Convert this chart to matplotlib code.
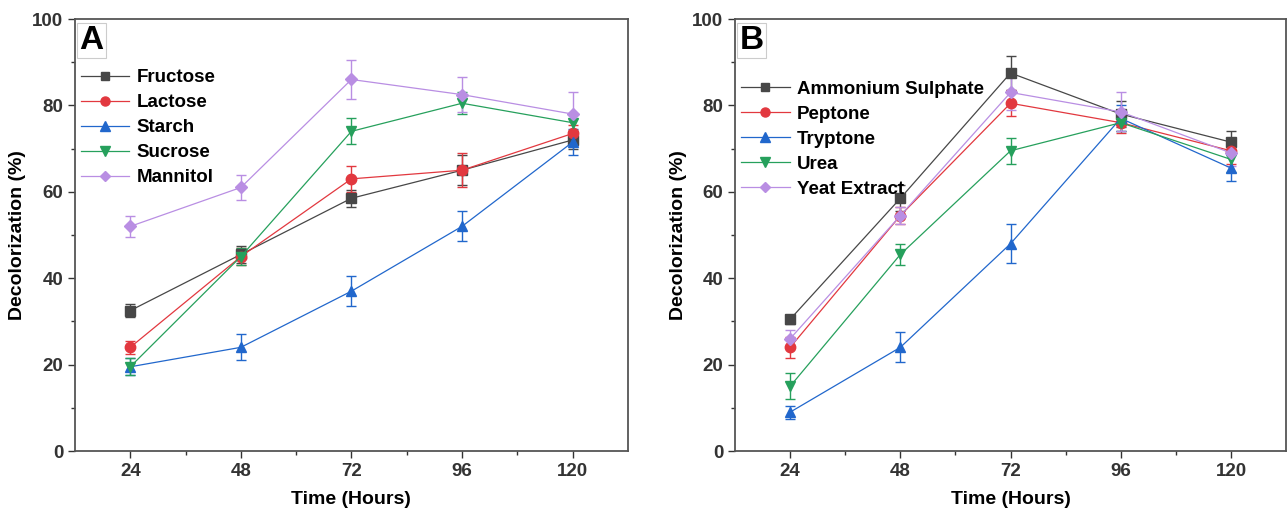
import matplotlib
matplotlib.use("Agg")
import matplotlib.pyplot as plt
from matplotlib.lines import Line2D
import numpy as np

plt.rcParams['font.family'] = ['Liberation Sans', 'DejaVu Sans']
plt.rcParams['font.weight'] = 'bold'

hours = [24, 48, 72, 96, 120]

# panel A - carbon sources
carbon_names = ['Fructose', 'Lactose', 'Starch', 'Sucrose', 'Mannitol']
fructose = [32.5, 45.5, 58.5, 65, 72]
fructose_err = [1.5, 2, 2, 3.5, 2]
lactose = [24, 45, 63, 65, 73.5]
lactose_err = [1.5, 2, 3, 4, 2]
starch = [19.5, 24, 37, 52, 71.5]
starch_err = [2, 3, 3.5, 3.5, 3]
sucrose = [19.5, 45, 74, 80.5, 76]
sucrose_err = [2, 2, 3, 2.5, 2]
mannitol = [52, 61, 86, 82.5, 78]
mannitol_err = [2.5, 3, 4.5, 4, 5]

# panel B - nitrogen sources
nitrogen_names = ['Ammonium Sulphate', 'Peptone', 'Tryptone', 'Urea', 'Yeat Extract']
ammonium = [30.5, 58.5, 87.5, 78, 71.5]
ammonium_err = [1, 3, 4, 3, 2.5]
peptone = [24, 54.5, 80.5, 76, 69.5]
peptone_err = [2.5, 2, 3, 2.5, 3]
tryptone = [9, 24, 48, 77, 65.5]
tryptone_err = [1.5, 3.5, 4.5, 3, 3]
urea = [15, 45.5, 69.5, 76, 67.5]
urea_err = [3, 2.5, 3, 2, 3]
yeast = [26, 54.5, 83, 78.5, 69]
yeast_err = [2, 2, 4, 4.5, 3]

colors = ['#474747', '#e2383f', '#2167cc', '#26a05c', '#b98ee3']
markers = ['s', 'o', '^', 'v', 'D']
msizes = [6.5, 7.5, 7.5, 7.5, 6.5]

fig = plt.figure(figsize=(12.88, 5.18), dpi=100)
axA = fig.add_axes([0.0582, 0.1293, 0.4293, 0.834])
axB = fig.add_axes([0.5707, 0.1293, 0.4278, 0.834])


def draw(ax, names, series, errs, letter, leg_top):
    handles = []
    for i in range(len(names)):
        ax.errorbar(hours, series[i], yerr=errs[i], color=colors[i], marker=markers[i],
                    markersize=msizes[i], linewidth=0.9, elinewidth=1, capsize=3.5,
                    capthick=1)
        handles.append(Line2D([], [], color=colors[i], marker=markers[i],
                              markersize=msizes[i] - 1, linewidth=0.9, label=names[i]))
    ax.set_xlim(12, 132)
    ax.set_ylim(0, 100)
    ax.set_xticks(hours)
    ax.set_xticks([36, 60, 84, 108], minor=True)
    ax.set_yticks([0, 20, 40, 60, 80, 100])
    ax.set_yticks([10, 30, 50, 70, 90], minor=True)
    ax.tick_params(axis='both', which='major', direction='out', length=5, width=1,
                   labelsize=13.5, colors='#333333')
    ax.tick_params(axis='both', which='minor', direction='out', length=3, width=1,
                   colors='#333333')
    for s in ax.spines.values():
        s.set_linewidth(1.3)
        s.set_color('#555555')
    ax.set_xlabel('Time (Hours)', fontsize=14, fontweight='bold', labelpad=8)
    ax.set_ylabel('Decolorization (%)', fontsize=14, fontweight='bold', labelpad=4)
    ax.text(0.008, 0.985, letter, transform=ax.transAxes, fontsize=24, fontweight='bold',
            va='top', ha='left',
            bbox=dict(facecolor='white', edgecolor='#cccccc', linewidth=0.8, pad=1.5))
    ax.legend(handles=handles, loc='upper left', bbox_to_anchor=(-0.01, leg_top),
              frameon=False, fontsize=13.5, handlelength=2.6, handletextpad=0.4,
              labelspacing=0.42, borderaxespad=0.2)


draw(axA, carbon_names, [fructose, lactose, starch, sucrose, mannitol],
     [fructose_err, lactose_err, starch_err, sucrose_err, mannitol_err], 'A', 0.91)
draw(axB, nitrogen_names, [ammonium, peptone, tryptone, urea, yeast],
     [ammonium_err, peptone_err, tryptone_err, urea_err, yeast_err], 'B', 0.883)

plt.savefig('out.png', dpi=100)
